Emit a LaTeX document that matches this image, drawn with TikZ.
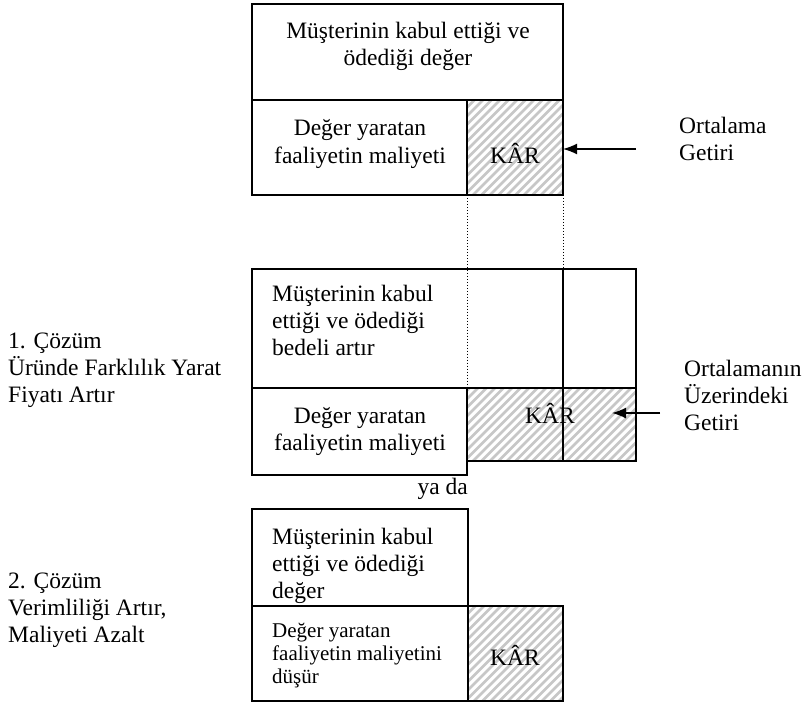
\documentclass[tikz,border=0pt]{standalone}
\usepackage{fontspec}
\setmainfont{Liberation Serif}
\usetikzlibrary{arrows.meta}

\tikzset{
  box/.style={draw=black, line width=1.5bp},
  guide/.style={draw=black, line width=1bp, dotted},
  hatchline/.style={draw=black!22, line width=2.8bp},
  pointer/.style={draw=black, line width=1.5bp, -{Latex[length=14bp,width=11bp]}},
  txt/.style={inner sep=0pt, font=\fontsize{23.5bp}{27bp}\selectfont},
  smalltxt/.style={inner sep=0pt, font=\fontsize{21bp}{23bp}\selectfont},
}

% diagonal hatching clipped to a rectangle: #1,#2 upper-left, #3,#4 lower-right
\newcommand\hatchrect[4]{%
  \begin{scope}
    \clip (#1,#2) rectangle (#3,#4);
    \foreach \s in {-130,-121.5,...,190}
      \draw[hatchline] ({#1+\s},#4) -- ++(130,-130);
  \end{scope}}

\begin{document}
\begin{tikzpicture}[x=1bp, y=-1bp]
\useasboundingbox (0,0) rectangle (809,704);

% multi-line nodes are placed by the baseline of their last line

% ---------- current position: average return ----------
\hatchrect{467}{100}{563}{195}
\draw[box] (252,4) rectangle (563,100);
\draw[box] (252,100) rectangle (467,195);
\draw[box] (467,100) rectangle (563,195);
\node[txt, align=center, anchor=base] (top1) at (408,66) {Müşterinin kabul ettiği ve\\ödediği değer};
\node[txt, align=center, anchor=base] (cost1) at (360,163) {Değer yaratan\\faaliyetin maliyeti};
\node[txt, anchor=base] (kar1) at (515,163) {KÂR};
\coordinate (tip1) at (563,149);
\coordinate (from1) at (636,149);
\draw[pointer] (from1) -- (tip1);
\node[txt, align=left, anchor=base west] (avg) at (679,161) {Ortalama\\Getiri};

% guides down to the second layout
\draw[guide] (467,195) -- (467,388);
\draw[guide] (563,195) -- (563,269);

% ---------- solution 1: differentiate, raise price ----------
\hatchrect{467}{388}{636}{461}
\draw[box] (252,269) rectangle (636,388);
\draw[box] (467,388) rectangle (636,461);
\draw[box] (252,388) rectangle (467,475);
\draw[box] (563,269) -- (563,461);
\node[txt, align=left, anchor=base west] (top2) at (272,355) {Müşterinin kabul\\ettiği ve ödediği\\bedeli artır};
\node[txt, align=center, anchor=base] (cost2) at (360,450) {Değer yaratan\\faaliyetin maliyeti};
\node[txt, anchor=base] (kar2) at (550,423) {KÂR};
\coordinate (tip2) at (612,413);
\coordinate (from2) at (660,413);
\draw[pointer] (from2) -- (tip2);
\node[txt, align=left, anchor=base west] (above) at (684,430) {Ortalamanın\\Üzerindeki\\Getiri};
\node[txt, align=left, anchor=base west] (sol1) at (8,402) {1. Çözüm\\Üründe Farklılık Yarat\\Fiyatı Artır};

\node[txt, anchor=base east] (or) at (468,494) {ya da};

% ---------- solution 2: efficiency, lower cost ----------
\hatchrect{468}{606}{563}{701}
\draw[box] (252,509) rectangle (468,606);
\draw[box] (252,606) rectangle (468,701);
\draw[box] (468,606) rectangle (563,701);
\node[txt, align=left, anchor=base west] (top3) at (272,598) {Müşterinin kabul\\ettiği ve ödediği\\değer};
\node[smalltxt, align=left, anchor=base west] (cost3) at (272,683) {Değer yaratan\\faaliyetin maliyetini\\düşür};
\node[txt, anchor=base] (kar3) at (515,665) {KÂR};
\node[txt, align=left, anchor=base west] (sol2) at (8,642) {2. Çözüm\\Verimliliği Artır,\\Maliyeti Azalt};
\end{tikzpicture}
\end{document}
